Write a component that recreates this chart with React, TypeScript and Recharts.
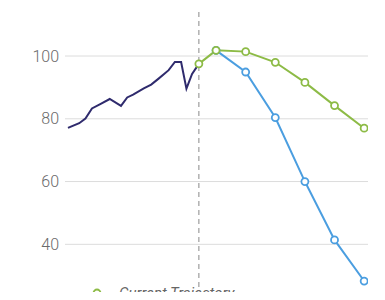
import { LineChart, Line, XAxis, YAxis, CartesianGrid, ReferenceLine, Legend } from "recharts";

// historical index (year, value)
const historyYears = [2020.0, 2020.38, 2020.59, 2020.81, 2021.09, 2021.41, 2021.79, 2022.0, 2022.2, 2022.56, 2022.81, 2023.06, 2023.4, 2023.61, 2023.82, 2024.0, 2024.19, 2024.42];
const historyValues = [77.1, 78.6, 80.1, 83.3, 84.7, 86.3, 84.1, 86.8, 87.7, 89.7, 90.9, 92.8, 95.5, 98.1, 98.1, 89.6, 94.3, 97.5];

const currentYears = [2024.42, 2025, 2026, 2027, 2028, 2029, 2030];
const currentValues = [97.5, 101.8, 101.4, 98.0, 91.6, 84.2, 77.0];

const requiredYears = [2025, 2026, 2027, 2028, 2029, 2030];
const requiredValues = [101.8, 94.9, 80.4, 60.0, 41.4, 28.3];

const yTicks = [40, 60, 80, 100];
const todayYear = 2024.42;

const history = historyYears.map((year, i) => ({ year, value: historyValues[i] }));
const current = currentYears.map((year, i) => ({ year, value: currentValues[i] }));
const required = requiredYears.map((year, i) => ({ year, value: requiredValues[i] }));

const GREEN = "#8dbb46";
const BLUE = "#4b9ee0";
const NAVY = "#2f2b6d";

function LegendContent() {
  return (
    <div style={{ display: "flex", alignItems: "center", fontFamily: "Roboto", fontStyle: "italic", fontSize: 15, lineHeight: "16px", color: "#666" }}>
      <svg width={31} height={10} style={{ marginRight: 7 }}>
        <line x1={0} y1={5} x2={31} y2={5} stroke={GREEN} strokeWidth={2} />
        <circle cx={16} cy={5} r={3.5} fill="#fff" stroke={GREEN} strokeWidth={1.8} />
      </svg>
      <span>Current Trajectory</span>
    </div>
  );
}

export default function App() {
  return (
    <div style={{ marginTop: -8, marginBottom: -8, height: 300, overflow: "hidden" }}>
      <LineChart width={377} height={300} margin={{ top: 0, right: 17, left: 0, bottom: 13 }}>
        <CartesianGrid horizontal vertical={false} horizontalValues={yTicks} stroke="#dcdcdc" />
        <XAxis type="number" dataKey="year" domain={[2019.9, 2030.13]} allowDataOverflow hide />
        <YAxis
          type="number"
          domain={[26.4, 117.85]}
          ticks={yTicks}
          allowDataOverflow
          width={57}
          axisLine={false}
          tickLine={false}
          tickSize={4}
          tick={{ fill: "#6a6a6a", fontSize: 16, fontFamily: "Roboto", fontWeight: 300 }}
        />
        <ReferenceLine x={todayYear} y1={0} stroke="#888" strokeDasharray="5 4" segment={[{ x: todayYear, y: 117.85 }, { x: todayYear, y: 27.5 }]} />
        <Legend
          layout="vertical"
          align="center"
          verticalAlign="middle"
          content={<LegendContent />}
          wrapperStyle={{ top: 285, left: 73, width: 260 }}
        />
        <Line data={history} dataKey="value" type="linear" stroke={NAVY} strokeWidth={2} dot={false} isAnimationActive={false} legendType="none" />
        <Line data={required} dataKey="value" type="linear" stroke={BLUE} strokeWidth={2} dot={{ r: 3.5, fill: "#fff", stroke: BLUE, strokeWidth: 1.8 }} isAnimationActive={false} legendType="none" />
        <Line data={current} dataKey="value" type="linear" stroke={GREEN} strokeWidth={2} dot={{ r: 3.5, fill: "#fff", stroke: GREEN, strokeWidth: 1.8 }} isAnimationActive={false} name="Current Trajectory" />
      </LineChart>
    </div>
  );
}
